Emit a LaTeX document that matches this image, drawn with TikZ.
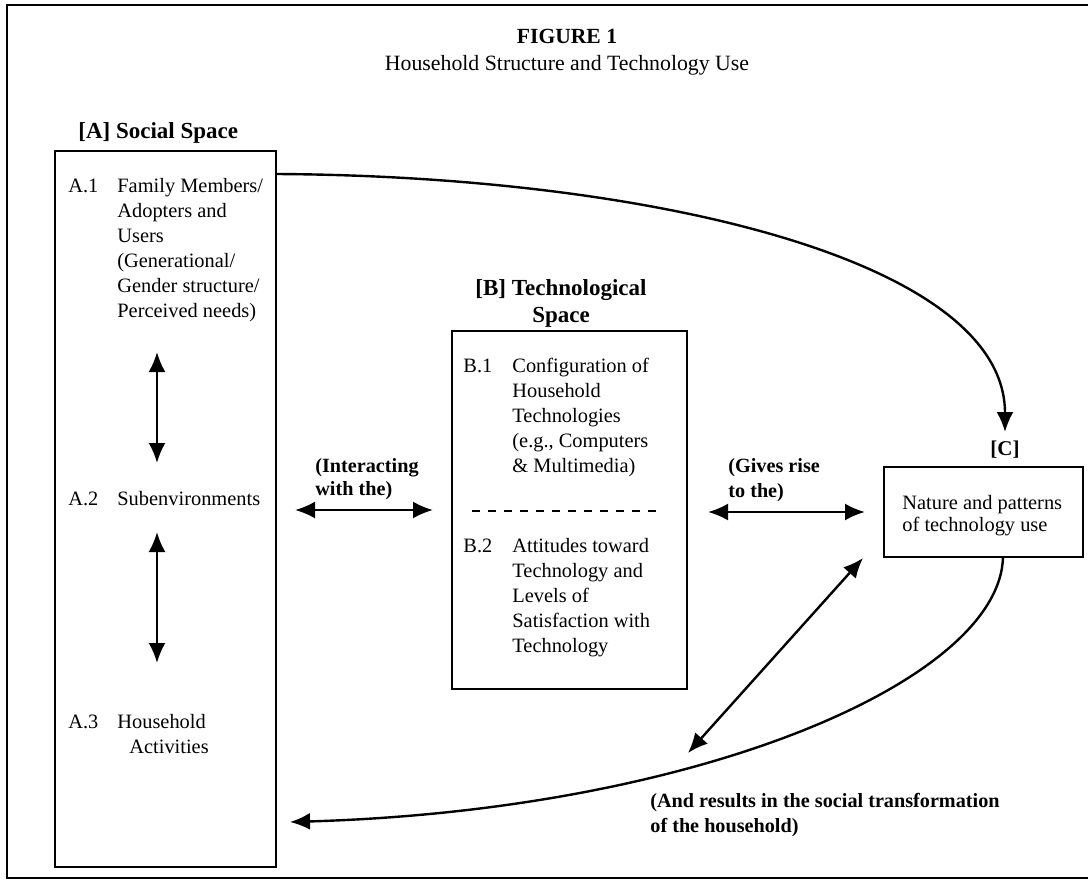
\documentclass[tikz,border=0pt]{standalone}
\usepackage{fontspec}
\setmainfont{Liberation Serif}
\usetikzlibrary{arrows.meta,fit}
\begin{document}
\begin{tikzpicture}[x=0.5pt,y=-0.5pt,
  txt/.style={font=\fontsize{10.2}{12.5}\selectfont, inner sep=0pt, align=left, anchor=base west},
  lbl/.style={font=\bfseries\fontsize{10.1}{12}\selectfont, inner sep=0pt, align=left, anchor=base west},
  head/.style={font=\bfseries\fontsize{11.5}{13.5}\selectfont, inner sep=0pt},
  boxed/.style={draw, line width=1.1pt, inner sep=0pt},
  link/.style={line width=1.2pt},
  tipend/.style={-{Latex[length=10pt,width=8.5pt]}},
  twoway/.style={{Latex[length=10pt,width=8.5pt]}-{Latex[length=10pt,width=8.5pt]}},
]
\useasboundingbox (0,0) rectangle (1088,879);
% frame
\coordinate (f1) at (1088,5);
\coordinate (f2) at (7,5);
\coordinate (f3) at (7,878);
\coordinate (f4) at (1088,878);
\draw[line width=1pt] (f1) -- (f2) -- (f3) -- (f4);

% title
\node[font=\bfseries\fontsize{10.8}{13}\selectfont, inner sep=0pt, anchor=base] (fig) at (567,43) {FIGURE 1};
\node[font=\fontsize{10.9}{13}\selectfont, inner sep=0pt, anchor=base] (sub) at (567,70) {Household Structure and Technology Use};

% [A]
\node[head, anchor=base west] (Ahead) at (78,138) {[A] Social Space};
\coordinate (A1c) at (55,151);
\coordinate (A2c) at (276,867);
\node[boxed, fit=(A1c)(A2c)] (A) {};
% multi-line nodes are placed by the baseline of their last line
\node[txt] (a1n) at (68,192) {A.1};
\node[txt] (a1) at (117,317) {Family Members/\\Adopters and\\Users\\(Generational/\\Gender structure/\\Perceived needs)};
\node[txt] (a2n) at (68,505) {A.2};
\node[txt] (a2) at (117,505) {Subenvironments};
\node[txt] (a3n) at (68,728) {A.3};
\node[txt] (a3) at (117,753) {Household\\\hspace*{6pt}Activities};
\coordinate (v1a) at (157,352);
\coordinate (v1b) at (157,463);
\coordinate (v2a) at (157,532);
\coordinate (v2b) at (157,663);
\draw[link,twoway] (v1a) -- (v1b);
\draw[link,twoway] (v2a) -- (v2b);

% [B]
\node[head, align=center, anchor=base] (Bhead) at (561,322) {[B] Technological\\Space};
\coordinate (B1c) at (452,331);
\coordinate (B2c) at (687,689);
\node[boxed, fit=(B1c)(B2c)] (B) {};
\node[txt] (b1n) at (463,372) {B.1};
\node[txt] (b1) at (512,472) {Configuration of\\Household\\Technologies\\(e.g., Computers\\\& Multimedia)};
\coordinate (d1) at (472,511);
\coordinate (d2) at (663,511);
\draw[line width=1pt, dash pattern=on 4pt off 4pt] (d1) -- (d2);
\node[txt] (b2n) at (463,552) {B.2};
\node[txt] (b2) at (512,652) {Attitudes toward\\Technology and\\Levels of\\Satisfaction with\\Technology};

% A <-> B
\node[lbl, font=\bfseries\fontsize{10.1}{11.5}\selectfont] (inter) at (315,495) {(Interacting\\with the)};
\coordinate (ab1) at (295,510);
\coordinate (ab2) at (433,510);
\draw[link,twoway] (ab1) -- (ab2);

% B <-> C
\node[lbl, font=\bfseries\fontsize{10.1}{12.5}\selectfont] (gives) at (728,497) {(Gives rise\\to the)};
\coordinate (bc1) at (708,512);
\coordinate (bc2) at (865,512);
\draw[link,twoway] (bc1) -- (bc2);

% [C]
\node[font=\bfseries\fontsize{10.5}{12}\selectfont, inner sep=0pt, anchor=base] (Chead) at (1005,455) {[C]};
\coordinate (C1c) at (884,467);
\coordinate (C2c) at (1083,557);
\node[boxed, fit=(C1c)(C2c)] (C) {};
\node[txt, font=\fontsize{10.2}{11}\selectfont] (ctext) at (902,531) {Nature and patterns\\of technology use};

% A -> C curve
\coordinate (aout) at (276,174);
\coordinate (cin) at (1005,432);
\draw[link,tipend] (aout) .. controls (650,176) and (1005,260) .. (cin);

% C -> A curve
\coordinate (cout) at (1003,557);
\coordinate (ain) at (290,822);
\draw[link,tipend] (cout) .. controls (1000,680) and (700,810) .. (ain);

% diagonal
\coordinate (dg1) at (688,753);
\coordinate (dg2) at (863,558);
\draw[link,twoway] (dg1) -- (dg2);

\node[lbl, font=\bfseries\fontsize{10.1}{12.5}\selectfont] (res) at (650,832) {(And results in the social transformation\\of the household)};
\end{tikzpicture}
\end{document}
